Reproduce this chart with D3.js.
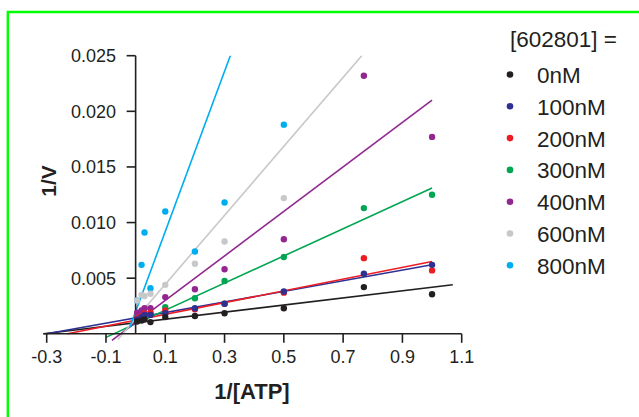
<!DOCTYPE html>
<html lang="en">
<head>
  <meta charset="UTF-8" />
  <title>Lineweaver-Burk 602801</title>
  <script src="https://d3js.org/d3.v7.min.js"></script>
  <style>
    body { margin: 0; background: #fff; }
    svg { display: block; font-family: "Liberation Sans", Arial, Helvetica, sans-serif; }
  </style>
</head>
<body>
<svg id="chart" width="639" height="417"></svg>
<script>
// 1/[ATP] values
const xVals = [0.005, 0.02, 0.03, 0.05, 0.1, 0.2, 0.3, 0.5, 0.77, 1.0];

const concLabels = ["0nM", "100nM", "200nM", "300nM", "400nM", "600nM", "800nM"];
const colors = ["#231f20", "#2e3192", "#ed1c24", "#00a651", "#92278f", "#c7c8ca", "#00aeef"];

// 1/V for each inhibitor concentration (null = off the chart)
const v0   = [0.0011, 0.0012, 0.0013, 0.00105, 0.0015, 0.0016, 0.00185, 0.0023, 0.0042, 0.00356];
const v100 = [0.0013, 0.0015, 0.0017, 0.0017, 0.00185, 0.0023, 0.0027, 0.0038, 0.0054, 0.0062];
const v200 = [0.0014, 0.0016, 0.0018, 0.0019, 0.0021, 0.0022, 0.0027, 0.0037, 0.0068, 0.0057];
const v300 = [0.0014, 0.0015, 0.0017, 0.00185, 0.0024, 0.0032, 0.00475, 0.0069, 0.0113, 0.0125];
const v400 = [0.0019, 0.0021, 0.0023, 0.0023, 0.0033, 0.004, 0.0058, 0.0085, 0.0232, 0.0177];
const v600 = [0.0030, 0.0035, 0.0034, 0.0036, 0.0044, 0.0063, 0.0083, 0.0122, null, null];
const v800 = [0.0030, 0.0062, 0.0091, 0.0041, 0.011, 0.0074, 0.0118, 0.0188, null, null];
const seriesValues = [v0, v100, v200, v300, v400, v600, v800];

// fitted lines: slope, intercept and drawn x range
const slopes     = [0.00319, 0.00477, 0.00528, 0.0122, 0.0200, 0.031, 0.072];
const intercepts = [0.00099, 0.00143, 0.00122, 0.0009, 0.0010, 0.00135, 0.0020];
const xStart     = [-0.31, -0.30, -0.23, -0.10, -0.08, -0.06, -0.02];
const xEnd       = [1.07, 1.0, 1.0, 1.0, 1.0, 1.0, 1.0];

const xTicks = [-0.3, -0.1, 0.1, 0.3, 0.5, 0.7, 0.9, 1.1];
const yTicks = [0.005, 0.010, 0.015, 0.020, 0.025];

const svg = d3.select("#chart");

// green frame (only top and left edges in view)
svg.append("path")
  .attr("d", "M7.8,417 V12 H639")
  .attr("fill", "none")
  .attr("stroke", "#00ff00")
  .attr("stroke-width", 2.4);

const x = d3.scaleLinear().domain([-0.3, 1.1]).range([46.7, 461.7]);
const y = d3.scaleLinear().domain([0, 0.025]).range([333.8, 55.7]);
const axisColor = "#231f20";

svg.append("clipPath").attr("id", "plotClip")
  .append("rect").attr("x", 30).attr("y", y(0.025)).attr("width", 440).attr("height", 300);

// fitted lines
const lineLayer = svg.append("g").attr("clip-path", "url(#plotClip)");
const line = d3.line().x(d => x(d[0])).y(d => y(d[1]));
concLabels.forEach((c, i) => {
  const pts = [xStart[i], xEnd[i]].map(xx => [xx, slopes[i] * xx + intercepts[i]]);
  lineLayer.append("path")
    .attr("d", line(pts))
    .attr("fill", "none")
    .attr("stroke", colors[i])
    .attr("stroke-width", 1.6);
});

// x axis
const xAxis = svg.append("g");
xAxis.append("line")
  .attr("x1", x(-0.312)).attr("x2", x(1.1))
  .attr("y1", y(0)).attr("y2", y(0))
  .attr("stroke", axisColor).attr("stroke-width", 1.6);
xTicks.forEach(t => {
  xAxis.append("line")
    .attr("x1", x(t)).attr("x2", x(t))
    .attr("y1", y(0)).attr("y2", y(0) + 9)
    .attr("stroke", axisColor).attr("stroke-width", 1.6);
  xAxis.append("text")
    .attr("x", x(t)).attr("y", 363)
    .attr("text-anchor", "middle")
    .attr("font-size", 18)
    .attr("fill", "#231f20")
    .text(d3.format(".1f")(t).replace("−", "-"));
});

// y axis
const yAxis = svg.append("g");
yAxis.append("line")
  .attr("x1", x(0)).attr("x2", x(0))
  .attr("y1", y(0)).attr("y2", y(0.025))
  .attr("stroke", axisColor).attr("stroke-width", 1.6);
yTicks.forEach(t => {
  yAxis.append("line")
    .attr("x1", x(0) - 9).attr("x2", x(0))
    .attr("y1", y(t)).attr("y2", y(t))
    .attr("stroke", axisColor).attr("stroke-width", 1.6);
  yAxis.append("text")
    .attr("x", 116).attr("y", y(t) + 6.5)
    .attr("text-anchor", "end")
    .attr("font-size", 18)
    .attr("fill", "#231f20")
    .text(d3.format(".3f")(t));
});

// data points, last series first so black sits on top
const pointLayer = svg.append("g");
for (let i = concLabels.length - 1; i >= 0; i--) {
  seriesValues[i].forEach((v, j) => {
    if (v == null) return;
    pointLayer.append("circle")
      .attr("cx", x(xVals[j]))
      .attr("cy", y(v))
      .attr("r", 3.2)
      .attr("fill", colors[i]);
  });
}

// axis titles
svg.append("text")
  .attr("x", 252).attr("y", 399)
  .attr("text-anchor", "middle")
  .attr("font-size", 22).attr("font-weight", "bold")
  .attr("fill", "#231f20")
  .text("1/[ATP]");

svg.append("text")
  .attr("transform", "translate(56,181) rotate(-90)")
  .attr("text-anchor", "middle")
  .attr("font-size", 21).attr("font-weight", "bold")
  .attr("fill", "#231f20")
  .text("1/V");

// legend
const legend = svg.append("g");
legend.append("text")
  .attr("x", 510).attr("y", 47)
  .attr("font-size", 22.5)
  .attr("fill", "#231f20")
  .text("[602801] =");
concLabels.forEach((c, i) => {
  const cy = 74.5 + i * 31.8;
  legend.append("circle")
    .attr("cx", 510).attr("cy", cy).attr("r", 3.3)
    .attr("fill", colors[i]);
  legend.append("text")
    .attr("x", 537).attr("y", cy + 8.5)
    .attr("font-size", 22.5)
    .attr("fill", "#231f20")
    .text(c);
});
</script>
</body>
</html>
